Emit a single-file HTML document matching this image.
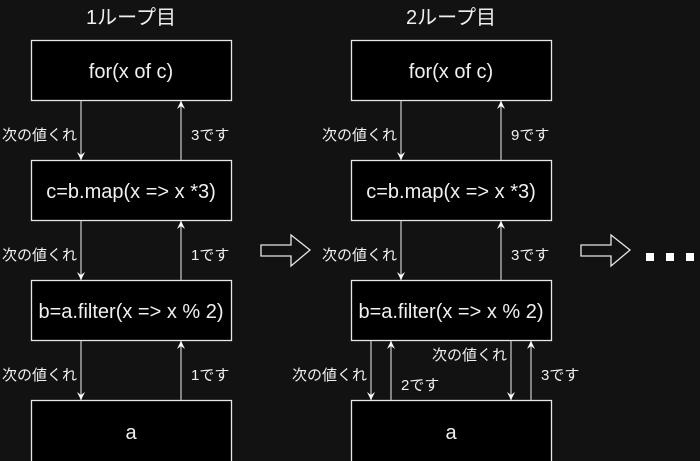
<!DOCTYPE html>
<html><head><meta charset="utf-8"><style>
html,body{margin:0;background:#121212;overflow:hidden;width:700px;height:461px;}
svg{display:block}
svg text{font-family:"Liberation Sans","Noto Sans CJK JP",sans-serif;fill:#f0f0f0;}
</style></head><body>
<svg width="700" height="461" viewBox="0 0 700 461" xmlns="http://www.w3.org/2000/svg">
<defs>
<marker id="d" viewBox="0 0 8 8" markerWidth="8" markerHeight="8" refX="8" refY="4" orient="auto" markerUnits="userSpaceOnUse"><path d="M0,0 L8,4 L0,8 L3,4 Z" fill="#fff"/></marker></defs>
<rect width="700" height="461" fill="#121212"/>
<g font-size="20" text-anchor="middle"><text x="131" y="24">1ループ目</text><text x="451" y="24">2ループ目</text></g>
<g stroke="#e6e6e6" stroke-width="1.3" fill="#000">
<rect x="31.5" y="40.5" width="200" height="60"/><rect x="31.5" y="160.5" width="200" height="60"/><rect x="31.5" y="280.5" width="200" height="60"/><rect x="31.5" y="400.5" width="200" height="70"/>
<rect x="351.5" y="40.5" width="200" height="60"/><rect x="351.5" y="160.5" width="200" height="60"/><rect x="351.5" y="280.5" width="200" height="60"/><rect x="351.5" y="400.5" width="200" height="70"/>
</g>
<g font-size="20" text-anchor="middle">
<text x="131" y="78">for(x of c)</text><text x="131" y="198">c=b.map(x =&gt; x *3)</text><text x="131" y="318">b=a.filter(x =&gt; x % 2)</text><text x="131" y="439">a</text>
<text x="451" y="78">for(x of c)</text><text x="451" y="198">c=b.map(x =&gt; x *3)</text><text x="451" y="318">b=a.filter(x =&gt; x % 2)</text><text x="451" y="439">a</text>
</g>
<g stroke="#a8a8a8" stroke-width="1.5" marker-end="url(#d)">
<line x1="81" y1="101" x2="81" y2="160"/><line x1="181" y1="160" x2="181" y2="101"/>
<line x1="81" y1="221" x2="81" y2="280"/><line x1="181" y1="280" x2="181" y2="221"/>
<line x1="81" y1="341" x2="81" y2="400"/><line x1="181" y1="400" x2="181" y2="341"/>
<line x1="401" y1="101" x2="401" y2="160"/><line x1="501" y1="160" x2="501" y2="101"/>
<line x1="401" y1="221" x2="401" y2="280"/><line x1="501" y1="280" x2="501" y2="221"/>
<line x1="371" y1="341" x2="371" y2="400"/><line x1="391" y1="400" x2="391" y2="341"/>
<line x1="511" y1="341" x2="511" y2="400"/><line x1="531" y1="400" x2="531" y2="341"/>
</g>
<g font-size="15">
<text x="2" y="140">次の値くれ</text><text x="191" y="140">3です</text>
<text x="2" y="260">次の値くれ</text><text x="191" y="260">1です</text>
<text x="2" y="380">次の値くれ</text><text x="191" y="380">1です</text>
<text x="322" y="140">次の値くれ</text><text x="511" y="140">9です</text>
<text x="322" y="260">次の値くれ</text><text x="511" y="260">3です</text>
<text x="292" y="380">次の値くれ</text><text x="401" y="390">2です</text>
<text x="432" y="360">次の値くれ</text><text x="541" y="380">3です</text>
</g>
<g stroke="#e6e6e6" stroke-width="1.3" fill="none">
<path d="M261,245 H291 V235 L310,250 L291,266 V256 H261 Z"/>
<path d="M581,245 H611 V235 L630,250 L611,266 V256 H581 Z"/>
</g>
<g fill="#fff"><rect x="646" y="253" width="8" height="8"/><rect x="666" y="253" width="8" height="8"/><rect x="686" y="253" width="8" height="8"/></g>
</svg>
</body></html>
